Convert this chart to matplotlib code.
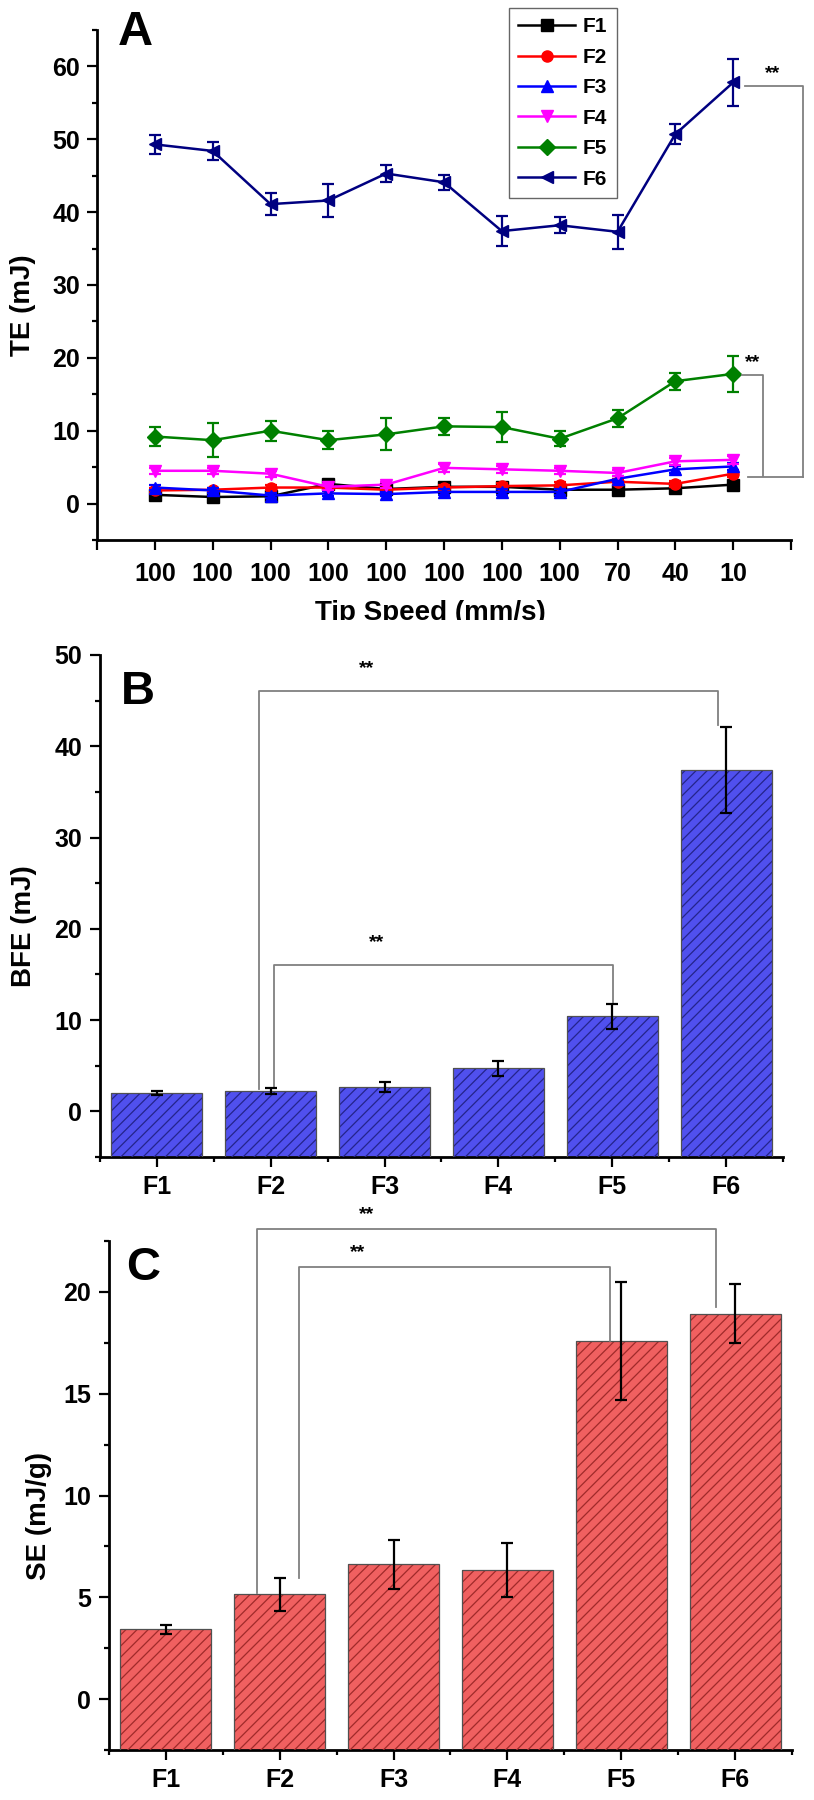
import numpy as np
import matplotlib
matplotlib.use('Agg')
import matplotlib.pyplot as plt
from matplotlib.patches import Rectangle
from matplotlib.ticker import MultipleLocator

plt.rcParams['font.family'] = ['Liberation Sans', 'DejaVu Sans']
plt.rcParams['font.weight'] = 'bold'
plt.rcParams['hatch.linewidth'] = 0.9

# ---- panel A data: TE (mJ) per test step ----
speed_labels = ['100', '100', '100', '100', '100', '100', '100', '100', '70', '40', '10']
te_f1 = [1.2, 0.9, 1.0, 2.7, 2.0, 2.3, 2.3, 1.9, 1.9, 2.1, 2.6]
te_f2 = [1.8, 1.9, 2.2, 2.2, 1.9, 2.2, 2.4, 2.5, 3.0, 2.7, 4.1]
te_f3 = [2.2, 1.8, 1.1, 1.4, 1.3, 1.6, 1.6, 1.6, 3.4, 4.7, 5.1]
te_f4 = [4.5, 4.5, 4.1, 2.3, 2.6, 4.9, 4.7, 4.5, 4.2, 5.8, 6.0]
te_f5 = [9.2, 8.7, 10.0, 8.7, 9.5, 10.6, 10.5, 8.9, 11.7, 16.8, 17.8]
te_f6 = [49.3, 48.4, 41.1, 41.6, 45.3, 44.1, 37.4, 38.2, 37.3, 50.7, 57.8]
err_f1 = [0.3, 0.3, 0.3, 0.4, 0.3, 0.3, 0.3, 0.3, 0.3, 0.3, 0.4]
err_f2 = [0.3, 0.3, 0.4, 0.3, 0.3, 0.4, 0.4, 0.4, 0.4, 0.4, 0.5]
err_f3 = [0.4, 0.3, 0.3, 0.3, 0.3, 0.4, 0.4, 0.4, 0.4, 0.5, 0.5]
err_f4 = [0.4, 0.4, 0.4, 0.4, 0.4, 0.5, 0.5, 0.4, 0.4, 0.5, 0.5]
err_f5 = [1.3, 2.3, 1.4, 1.25, 2.2, 1.2, 2.1, 1.0, 1.2, 1.15, 2.5]
err_f6 = [1.3, 1.2, 1.5, 2.2, 1.2, 1.0, 2.1, 1.1, 2.3, 1.4, 3.2]

# ---- panel B / C data ----
formulations = ['F1', 'F2', 'F3', 'F4', 'F5', 'F6']
bfe = [2.0, 2.2, 2.7, 4.7, 10.4, 37.4]
bfe_err = [0.2, 0.35, 0.55, 0.85, 1.35, 4.7]
se = [3.42, 5.15, 6.62, 6.36, 17.6, 18.93]
se_err = [0.24, 0.8, 1.2, 1.33, 2.9, 1.45]

W, H = 814, 1800
fig = plt.figure(figsize=(W / 100, H / 100), dpi=100)


def fig_rect(left, top, right, bottom):
    # pixel box -> figure fraction
    return [left / W, 1 - bottom / H, (right - left) / W, (bottom - top) / H]


def style_axes(ax, ypad, xpad):
    for s in ['top', 'right']:
        ax.spines[s].set_visible(False)
    for s in ['left', 'bottom']:
        ax.spines[s].set_linewidth(2.0)
    ax.tick_params(which='major', length=7, width=1.6, labelsize=18)
    ax.tick_params(which='minor', length=3.6, width=1.6)
    ax.tick_params(axis='y', pad=ypad)
    ax.tick_params(axis='x', pad=xpad)
    for lab in ax.get_xticklabels() + ax.get_yticklabels():
        lab.set_fontweight('bold')


def bracket(ax, x1, x2, y, y1, y2):
    ax.plot([x1, x1, x2, x2], [y1, y, y, y2], color='#808080', lw=1.3,
            clip_on=False, zorder=5)


# ================= Panel A =================
axA = fig.add_axes(fig_rect(97, 30, 791, 540))
x = np.arange(1, len(speed_labels) + 1)
series = [
    ('F1', te_f1, err_f1, 'black', 's'),
    ('F2', te_f2, err_f2, '#ff0000', 'o'),
    ('F3', te_f3, err_f3, '#0000ff', '^'),
    ('F4', te_f4, err_f4, '#ff00ff', 'v'),
    ('F5', te_f5, err_f5, '#008000', 'D'),
    ('F6', te_f6, err_f6, '#000080', '<'),
]
handles = []
for name, vals, errs, col, mk in series:
    axA.errorbar(x, vals, yerr=errs, fmt='none', ecolor=col, elinewidth=1.6,
                 capsize=4, capthick=1.6)
    h, = axA.plot(x, vals, color=col, marker=mk, markersize=8, lw=1.8,
                  label=name)
    handles.append(h)

axA.set_xlim(0, 12)
axA.set_ylim(-5, 65)
axA.set_xticks(range(0, 13))
axA.set_xticklabels([''] + speed_labels + [''])
axA.set_yticks([0, 10, 20, 30, 40, 50, 60])
axA.yaxis.set_minor_locator(MultipleLocator(5))
style_axes(axA, ypad=5, xpad=9)
axA.set_ylabel('TE (mJ)', fontsize=20, fontweight='bold')
axA.yaxis.set_label_coords(-0.088, 0.46)
axA.set_xlabel('Tip Speed (mm/s)', fontsize=20, fontweight='bold')
axA.xaxis.set_label_coords(0.481, -0.118)
axA.text(0.03, 1.04, 'A', transform=axA.transAxes, fontsize=35,
         fontweight='bold', va='top', ha='left')

# significance marks
bracket(axA, 11.2, 12.2, 57.3, 57.3, 3.7)
axA.plot([11.26, 12.2], [3.7, 3.7], color='#808080', lw=1.3, clip_on=False)
bracket(axA, 11.16, 11.52, 17.6, 17.6, 3.8)
axA.text(11.69, 59.0, '**', fontsize=14, fontweight='bold', ha='center', va='center')
axA.text(11.33, 19.4, '**', fontsize=14, fontweight='bold', ha='center', va='center')

leg = axA.legend(handles=handles, loc='upper left',
                 bbox_to_anchor=(509 / W, 1 - 8 / H), bbox_transform=fig.transFigure,
                 borderaxespad=0, fancybox=False, frameon=True, handlelength=2.7,
                 labelspacing=0.55, borderpad=0.45, handletextpad=0.4,
                 prop={'size': 15, 'weight': 'bold'})
leg.get_frame().set_edgecolor('#404040')
leg.get_frame().set_linewidth(1.0)

# the original panel image is cut just below the axis title
fig.patches.append(Rectangle((0, 1 - 642 / H), 1, 22 / H, transform=fig.transFigure,
                             facecolor='white', edgecolor='none', zorder=20))


def bar_panel(ax, vals, errs, ybottom, face, hatch_col):
    xs = np.arange(1, len(formulations) + 1)
    heights = [v - ybottom for v in vals]
    ax.bar(xs, heights, width=0.8, bottom=ybottom, color=face, edgecolor='none',
           zorder=2)
    ax.bar(xs, heights, width=0.8, bottom=ybottom, color='none',
           edgecolor=hatch_col, hatch='///', linewidth=0, zorder=3)
    ax.bar(xs, heights, width=0.8, bottom=ybottom, color='none',
           edgecolor='#505050', linewidth=0.9, zorder=4)
    ax.errorbar(xs, vals, yerr=errs, fmt='none', ecolor='black', elinewidth=1.6,
                capsize=4, capthick=1.6, zorder=6)
    ax.set_xlim(0.5, 6.5)
    ax.set_xticks(xs)
    ax.set_xticklabels(formulations)
    ax.set_xticks(np.arange(0.5, 7, 1.0), minor=True)


# ================= Panel B =================
axB = fig.add_axes(fig_rect(100, 655, 783, 1157))
bar_panel(axB, bfe, bfe_err, -5, '#5050ee', '#24248a')
axB.set_ylim(-5, 50)
axB.set_yticks([0, 10, 20, 30, 40, 50])
axB.yaxis.set_minor_locator(MultipleLocator(5))
style_axes(axB, ypad=6, xpad=6)
axB.set_ylabel('BFE (mJ)', fontsize=20, fontweight='bold')
axB.yaxis.set_label_coords(-0.092, 0.46)
axB.text(0.03, 0.97, 'B', transform=axB.transAxes, fontsize=34,
         fontweight='bold', va='top', ha='left')
bracket(axB, 1.90, 5.93, 46.1, 2.4, 42.3)
bracket(axB, 2.03, 5.01, 16.0, 2.6, 12.0)
axB.text(2.84, 47.6, '**', fontsize=14, fontweight='bold', ha='center', va='bottom')
axB.text(2.93, 17.6, '**', fontsize=14, fontweight='bold', ha='center', va='bottom')

# ================= Panel C =================
axC = fig.add_axes(fig_rect(109, 1241, 792, 1750))
bar_panel(axC, se, se_err, -2.5, '#f06060', '#a02a2a')
axC.set_ylim(-2.5, 22.5)
axC.set_yticks([0, 5, 10, 15, 20])
axC.yaxis.set_minor_locator(MultipleLocator(2.5))
style_axes(axC, ypad=6, xpad=6)
axC.set_ylabel('SE (mJ/g)', fontsize=20, fontweight='bold')
axC.yaxis.set_label_coords(-0.083, 0.46)
axC.text(0.025, 0.99, 'C', transform=axC.transAxes, fontsize=34,
         fontweight='bold', va='top', ha='left')
bracket(axC, 1.80, 5.83, 23.1, 5.2, 19.25)
bracket(axC, 2.17, 4.90, 21.2, 5.95, 17.6)
axC.text(2.76, 23.4, '**', fontsize=14, fontweight='bold', ha='center', va='bottom')
axC.text(2.68, 21.5, '**', fontsize=14, fontweight='bold', ha='center', va='bottom')

fig.savefig('out.png', dpi=100)
